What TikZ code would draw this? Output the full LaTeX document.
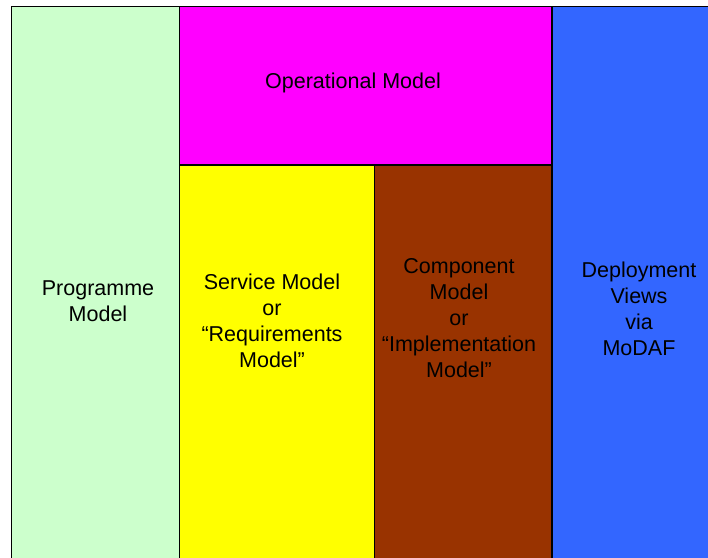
\documentclass[tikz,border=0pt]{standalone}
\usepackage{fontspec}
\setmainfont{Liberation Sans}
\definecolor{cgreen}{HTML}{CCFFCC}
\definecolor{cmag}{HTML}{FF00FF}
\definecolor{cyel}{HTML}{FFFF00}
\definecolor{cbrown}{HTML}{993300}
\definecolor{cblue}{HTML}{3366FF}
\begin{document}
\begin{tikzpicture}[x=1pt,y=-1pt,
  panel/.style={draw=black,line width=1.2pt},
  lbl/.style={align=center,font=\fontsize{21.5}{26}\selectfont,inner sep=0pt}]
\useasboundingbox (0,0) rectangle (708,557);
\clip (0,0) rectangle (708,557);
\fill[white] (0,0) rectangle (708,557);
\filldraw[panel,fill=cgreen] (11.5,6.5) rectangle (179.5,570);
\filldraw[panel,fill=cmag] (179.5,6.5) rectangle (552,165);
\filldraw[panel,fill=cyel] (179.5,165) rectangle (374.5,570);
\filldraw[panel,fill=cbrown] (374.5,165) rectangle (552,570);
\filldraw[panel,fill=cblue] (552,6.5) rectangle (720,570);
\node[lbl] (op) at (353,83) {Operational Model};
\node[lbl] (prog) at (98,301) {Programme\\Model};
\node[lbl] (serv) at (272,321) {Service Model\\or\\“Requirements\\Model”};
\node[lbl] (comp) at (459,318) {Component\\Model\\or\\“Implementation\\Model”};
\node[lbl] (dep) at (639,308.5) {Deployment\\Views\\via\\MoDAF};
\end{tikzpicture}
\end{document}
